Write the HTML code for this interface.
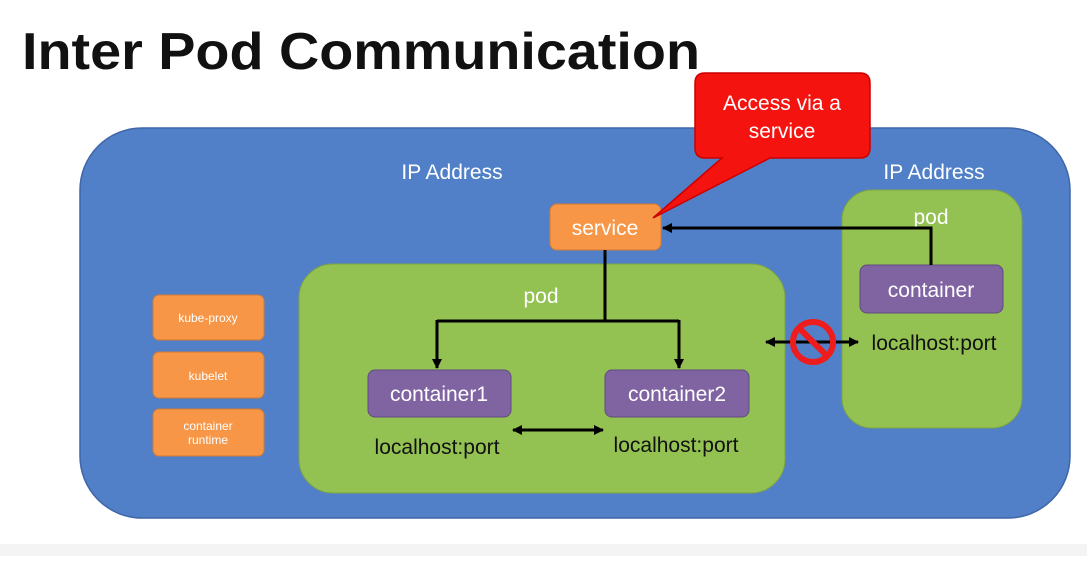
<!DOCTYPE html>
<html><head><style>
body{margin:0;background:#fff;width:1087px;height:556px;overflow:hidden;font-family:"Liberation Sans",sans-serif}
</style></head><body>
<svg width="1087" height="556" xmlns="http://www.w3.org/2000/svg" font-family="Liberation Sans, sans-serif">
<defs>
<marker id="a" markerWidth="10" markerHeight="10" refX="9" refY="5" orient="auto-start-reverse" markerUnits="userSpaceOnUse"><path d="M0,0 L10,5 L0,10 z" fill="#000"/></marker>
</defs>
<rect x="0" y="544" width="1087" height="12" fill="#f4f4f4"/>
<text x="22" y="69" font-size="52" font-weight="bold" fill="#111" textLength="678" lengthAdjust="spacingAndGlyphs">Inter Pod Communication</text>
<rect x="80" y="128" width="990" height="390" rx="62" fill="#5180c8" stroke="#3f66a8" stroke-width="1.5"/>
<text x="452" y="179" font-size="21" fill="#fff" text-anchor="middle">IP Address</text>
<text x="934" y="179" font-size="21" fill="#fff" text-anchor="middle">IP Address</text>
<rect x="299" y="264" width="486" height="229" rx="34" fill="#93c152" stroke="#7ea343"/>
<rect x="842" y="190" width="180" height="238" rx="30" fill="#93c152" stroke="#7ea343"/>
<text x="541" y="303" font-size="21" fill="#fff" text-anchor="middle">pod</text>
<text x="931" y="224" font-size="21" fill="#fff" text-anchor="middle">pod</text>
<rect x="550" y="204" width="111" height="46" rx="7" fill="#f79646" stroke="#d67a30"/>
<text x="605" y="235" font-size="21" fill="#fff" text-anchor="middle">service</text>
<g fill="#f79646" stroke="#d67a30">
<rect x="153" y="295" width="111" height="45" rx="6"/>
<rect x="153" y="352" width="111" height="46" rx="6"/>
<rect x="153" y="409" width="111" height="47" rx="6"/>
</g>
<g font-size="12" fill="#fff" text-anchor="middle">
<text x="208" y="322">kube-proxy</text>
<text x="208" y="380">kubelet</text>
<text x="208" y="430">container</text>
<text x="208" y="444">runtime</text>
</g>
<g fill="#8064a2" stroke="#5f4a80">
<rect x="860" y="265" width="143" height="48" rx="7"/>
<rect x="368" y="370" width="143" height="47" rx="7"/>
<rect x="605" y="370" width="144" height="47" rx="7"/>
</g>
<g font-size="21" fill="#fff" text-anchor="middle">
<text x="931" y="297">container</text>
<text x="439" y="401">container1</text>
<text x="677" y="401">container2</text>
</g>
<g font-size="21" fill="#111" text-anchor="middle">
<text x="437" y="454">localhost:port</text>
<text x="676" y="452">localhost:port</text>
<text x="934" y="350">localhost:port</text>
</g>
<g stroke="#000" stroke-width="3" fill="none">
<path d="M605,250 V321 M437,321 H679"/>
<path d="M437,320 V368" marker-end="url(#a)"/>
<path d="M679,320 V368" marker-end="url(#a)"/>
<path d="M931,265 V228 H663" marker-end="url(#a)"/>
<path d="M513,430 H603" marker-start="url(#a)" marker-end="url(#a)"/>
<path d="M766,342 H858" marker-start="url(#a)" marker-end="url(#a)"/>
</g>
<circle cx="813" cy="342" r="20" fill="none" stroke="#ee1c1c" stroke-width="6"/>
<line x1="799" y1="328" x2="827" y2="356" stroke="#ee1c1c" stroke-width="6"/>
<path d="M705,73 H860 Q870,73 870,83 V148 Q870,158 860,158 H770 L653,218 L722,158 H705 Q695,158 695,148 V83 Q695,73 705,73 Z" fill="#f5130f" stroke="#c00" stroke-width="1.5"/>
<text x="782" y="110" font-size="21" fill="#fff" text-anchor="middle">Access via a</text>
<text x="782" y="138" font-size="21" fill="#fff" text-anchor="middle">service</text>
</svg>
</body></html>
